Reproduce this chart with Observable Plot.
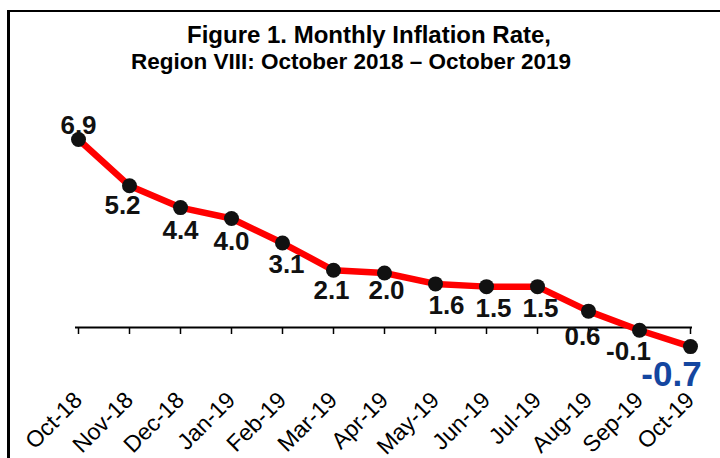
<!DOCTYPE html>
<html>
<head>
<meta charset="utf-8">
<script src="https://cdn.jsdelivr.net/npm/d3@7"></script>
<script src="https://cdn.jsdelivr.net/npm/@observablehq/plot@0.6"></script>
<style>
  html, body { margin: 0; padding: 0; background: #fff; }
  #wrap { position: relative; width: 720px; height: 458px; overflow: hidden; background: #fff;
          font-family: "Liberation Sans", Arial, Helvetica, sans-serif; }
  #frame { position: absolute; left: 7px; top: 10px; width: 800px; height: 600px;
           border-left: 3px solid #000; border-top: 2px solid #000; }
  #title { position: absolute; left: 0; top: 21px; width: 720px; font-weight: bold;
           line-height: 27px; color: #000; text-align: center; }
  #title div { position: relative; }
  #chart { position: absolute; left: 0; top: 0; }
</style>
</head>
<body>
<div id="wrap">
  <div id="frame"></div>
  <div id="title">
    <div style="left:9px; font-size:24px">Figure 1. Monthly Inflation Rate,</div>
    <div style="left:-9px; font-size:22.5px">Region VIII: October 2018 – October 2019</div>
  </div>
  <div id="chart"></div>
</div>
<script>
const months = ["Oct-18","Nov-18","Dec-18","Jan-19","Feb-19","Mar-19","Apr-19","May-19","Jun-19","Jul-19","Aug-19","Sep-19","Oct-19"];
const inflation = [6.9, 5.2, 4.4, 4.0, 3.1, 2.1, 2.0, 1.6, 1.5, 1.5, 0.6, -0.1, -0.7];

const data = months.map((m, i) => ({month: m, value: inflation[i]}));
const fmt = v => v.toFixed(1);
const font = "'Liberation Sans', Arial, Helvetica, sans-serif";

function labels(list, dx, dy, extra = {}) {
  return Plot.text(data, {
    filter: d => list.includes(d.month),
    x: "month", y: "value", text: d => fmt(d.value),
    dx, dy, fontSize: 26, fontWeight: "bold", fill: "#111",
    lineAnchor: "middle", textAnchor: "middle", ...extra
  });
}

const plot = Plot.plot({
  width: 720,
  height: 458,
  marginLeft: 75,
  marginRight: 28,
  marginTop: 136.25,
  marginBottom: 131,
  style: {fontFamily: font, background: "transparent", overflow: "visible"},
  x: {type: "point", domain: months, padding: 0, axis: null, label: null},
  y: {domain: [0, 7], axis: null},
  marks: [
    Plot.ruleY([0], {stroke: "#000", strokeWidth: 2}),
    Plot.axisX({tickSize: 7, tickFormat: () => "", label: null, stroke: "#000", strokeWidth: 1.5}),
    Plot.text(months, {x: d => d, y: 0, text: d => d, rotate: -45, textAnchor: "end",
      lineAnchor: "bottom", dx: 5, dy: 74, fontSize: 23, fill: "#000"}),
    Plot.line(data, {x: "month", y: "value", stroke: "#ff0000", strokeWidth: 6.5}),
    Plot.dot(data, {x: "month", y: "value", r: 7.5, fill: "#111", stroke: "none"}),
    labels(["Oct-18"], 0, -14),
    labels(["Nov-18"], -7, 20),
    labels(["Dec-18", "Jan-19"], 0, 23),
    labels(["Feb-19"], 4, 22),
    labels(["Mar-19"], -2, 20),
    labels(["Apr-19"], 2, 18),
    labels(["May-19"], 11, 22),
    labels(["Jun-19"], 7, 22),
    labels(["Jul-19"], 3, 22),
    labels(["Aug-19"], -6, 26),
    labels(["Sep-19"], -11, 21),
    labels(["Oct-19"], -19, 28, {fontSize: 35, fill: "#1446a0"})
  ]
});
document.getElementById("chart").appendChild(plot);
</script>
</body>
</html>
